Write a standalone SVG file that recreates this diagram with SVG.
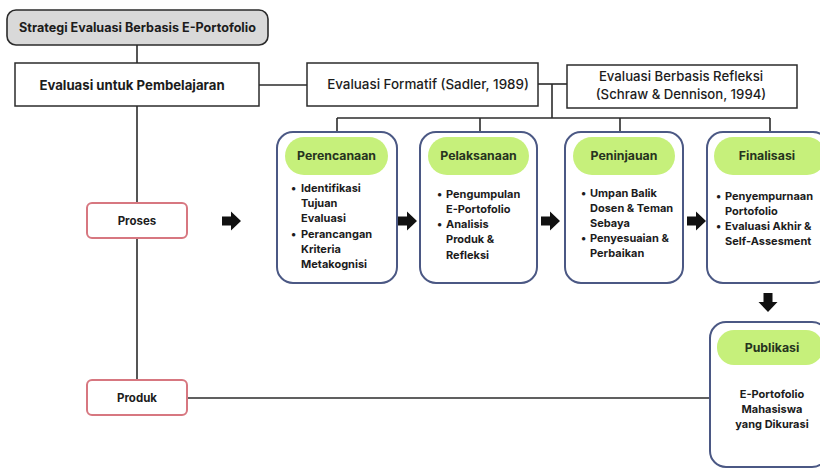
<svg xmlns="http://www.w3.org/2000/svg" width="820" height="469" viewBox="0 0 820 469">
<style>
  text { font-family: Inter, "Liberation Sans", "DejaVu Sans", sans-serif; fill: #1c1c1c; }
  .box { fill: #ffffff; stroke: #2b2b2b; stroke-width: 1.5; }
  .title { fill: #d9d9d9; stroke: #2b2b2b; stroke-width: 1.6; }
  .stage { fill: #ffffff; stroke: #4b5884; stroke-width: 2; }
  .pill { fill: #c6f07b; stroke: none; }
  .red { fill: #ffffff; stroke: #d77780; stroke-width: 2; }
  .line { stroke: #2b2b2b; stroke-width: 1.6; fill: none; }
  .hdr { font-size: 12.3px; font-weight: 700; text-anchor: middle; fill: #263320; }
  .bul { font-size: 11px; font-weight: 700; fill: #1c1c1c; }
  .mid { text-anchor: middle; }
  .arrow { fill: #111111; }
</style>
<defs>
  <path id="arR" d="M0,-4.5 H9 V-9.5 L19,0 L9,9.5 V4.5 H0 Z"/>
</defs>
<rect width="820" height="469" fill="#ffffff"/>

<g id="connectors">
  <line class="line" x1="137" y1="45" x2="137" y2="63"/>
  <line class="line" x1="259" y1="85" x2="307" y2="85"/>
  <line class="line" x1="538" y1="84" x2="567" y2="84"/>
  <line class="line" x1="552" y1="84" x2="552" y2="118"/>
  <line class="line" x1="337" y1="118" x2="770" y2="118"/>
  <line class="line" x1="337" y1="118" x2="337" y2="132"/>
  <line class="line" x1="480" y1="118" x2="480" y2="132"/>
  <line class="line" x1="620" y1="118" x2="620" y2="132"/>
  <line class="line" x1="770" y1="118" x2="770" y2="132"/>
  <line class="line" x1="137" y1="106" x2="137" y2="203"/>
  <line class="line" x1="137" y1="238" x2="137" y2="380"/>
  <line class="line" x1="187" y1="398" x2="710" y2="398"/>
  <use href="#arR" class="arrow" x="222" y="221"/>
  <use href="#arR" class="arrow" x="398" y="221"/>
  <use href="#arR" class="arrow" x="541" y="221"/>
  <use href="#arR" class="arrow" x="687" y="221"/>
  <use href="#arR" class="arrow" transform="translate(768,293) rotate(90)"/>
</g>

<g id="node-strategi">
  <rect class="title" x="7" y="10" width="261" height="35" rx="9"/>
  <text x="137.5" y="32" class="mid" font-size="12.6" font-weight="700">Strategi Evaluasi Berbasis E-Portofolio</text>
</g>

<g id="node-evaluasi-pembelajaran">
  <rect class="box" x="15" y="63" width="244" height="43"/>
  <text x="132" y="89.5" class="mid" font-size="13.2" font-weight="700">Evaluasi untuk Pembelajaran</text>
</g>

<g id="node-formatif">
  <rect class="box" x="307" y="63" width="231" height="43"/>
  <text x="428" y="89" class="mid" font-size="13.4" font-weight="500">Evaluasi Formatif (Sadler, 1989)</text>
</g>

<g id="node-refleksi">
  <rect class="box" x="567" y="65" width="230" height="43"/>
  <text x="681" y="81" class="mid" font-size="13.2" font-weight="500">Evaluasi Berbasis Refleksi</text>
  <text x="681" y="99" class="mid" font-size="13.2" font-weight="500">(Schraw &amp; Dennison, 1994)</text>
</g>

<g id="node-perencanaan">
  <rect class="stage" x="277" y="132" width="120" height="151" rx="16"/>
  <rect class="pill" x="285" y="137" width="103" height="38" rx="19"/>
  <text x="336.5" y="160" class="hdr">Perencanaan</text>
  <text class="bul" x="291" y="192">•</text>
  <text class="bul" x="301" y="192">Identifikasi</text>
  <text class="bul" x="301" y="207">Tujuan</text>
  <text class="bul" x="301" y="222">Evaluasi</text>
  <text class="bul" x="291" y="238">•</text>
  <text class="bul" x="301" y="238">Perancangan</text>
  <text class="bul" x="301" y="253">Kriteria</text>
  <text class="bul" x="301" y="268">Metakognisi</text>
</g>

<g id="node-pelaksanaan">
  <rect class="stage" x="420" y="132" width="117" height="151" rx="16"/>
  <rect class="pill" x="428" y="137" width="101" height="38" rx="19"/>
  <text x="478.5" y="160" class="hdr">Pelaksanaan</text>
  <text class="bul" x="437" y="198">•</text>
  <text class="bul" x="446" y="198">Pengumpulan</text>
  <text class="bul" x="446" y="213">E-Portofolio</text>
  <text class="bul" x="437" y="228">•</text>
  <text class="bul" x="446" y="228">Analisis</text>
  <text class="bul" x="446" y="243">Produk &amp;</text>
  <text class="bul" x="446" y="259">Refleksi</text>
</g>

<g id="node-peninjauan">
  <rect class="stage" x="565" y="132" width="118" height="151" rx="16"/>
  <rect class="pill" x="573" y="137" width="102" height="38" rx="19"/>
  <text x="624" y="160" class="hdr">Peninjauan</text>
  <text class="bul" x="581" y="197">•</text>
  <text class="bul" x="590" y="197">Umpan Balik</text>
  <text class="bul" x="590" y="212">Dosen &amp; Teman</text>
  <text class="bul" x="590" y="227">Sebaya</text>
  <text class="bul" x="581" y="242">•</text>
  <text class="bul" x="590" y="242">Penyesuaian &amp;</text>
  <text class="bul" x="590" y="257">Perbaikan</text>
</g>

<g id="node-finalisasi">
  <rect class="stage" x="707" y="132" width="122" height="151" rx="16"/>
  <rect class="pill" x="714" y="137" width="112" height="38" rx="19"/>
  <text x="767" y="160" class="hdr">Finalisasi</text>
  <text class="bul" x="716" y="200">•</text>
  <text class="bul" x="725" y="200">Penyempurnaan</text>
  <text class="bul" x="725" y="215">Portofolio</text>
  <text class="bul" x="716" y="230">•</text>
  <text class="bul" x="725" y="230">Evaluasi Akhir &amp;</text>
  <text class="bul" x="725" y="245">Self-Assesment</text>
</g>

<g id="node-publikasi">
  <rect class="stage" x="710" y="322" width="118" height="145" rx="16"/>
  <rect class="pill" x="717" y="330" width="106" height="35" rx="17"/>
  <text x="772" y="352" class="hdr">Publikasi</text>
  <text class="bul mid" x="772" y="398">E-Portofolio</text>
  <text class="bul mid" x="772" y="413">Mahasiswa</text>
  <text class="bul mid" x="772" y="428">yang Dikurasi</text>
</g>

<g id="node-proses">
  <rect class="red" x="87" y="203" width="100" height="35" rx="5"/>
  <text x="137" y="225" class="mid" font-size="11.5" font-weight="700">Proses</text>
</g>

<g id="node-produk">
  <rect class="red" x="87" y="380" width="100" height="35" rx="5"/>
  <text x="137" y="402" class="mid" font-size="11.5" font-weight="700">Produk</text>
</g>
</svg>
